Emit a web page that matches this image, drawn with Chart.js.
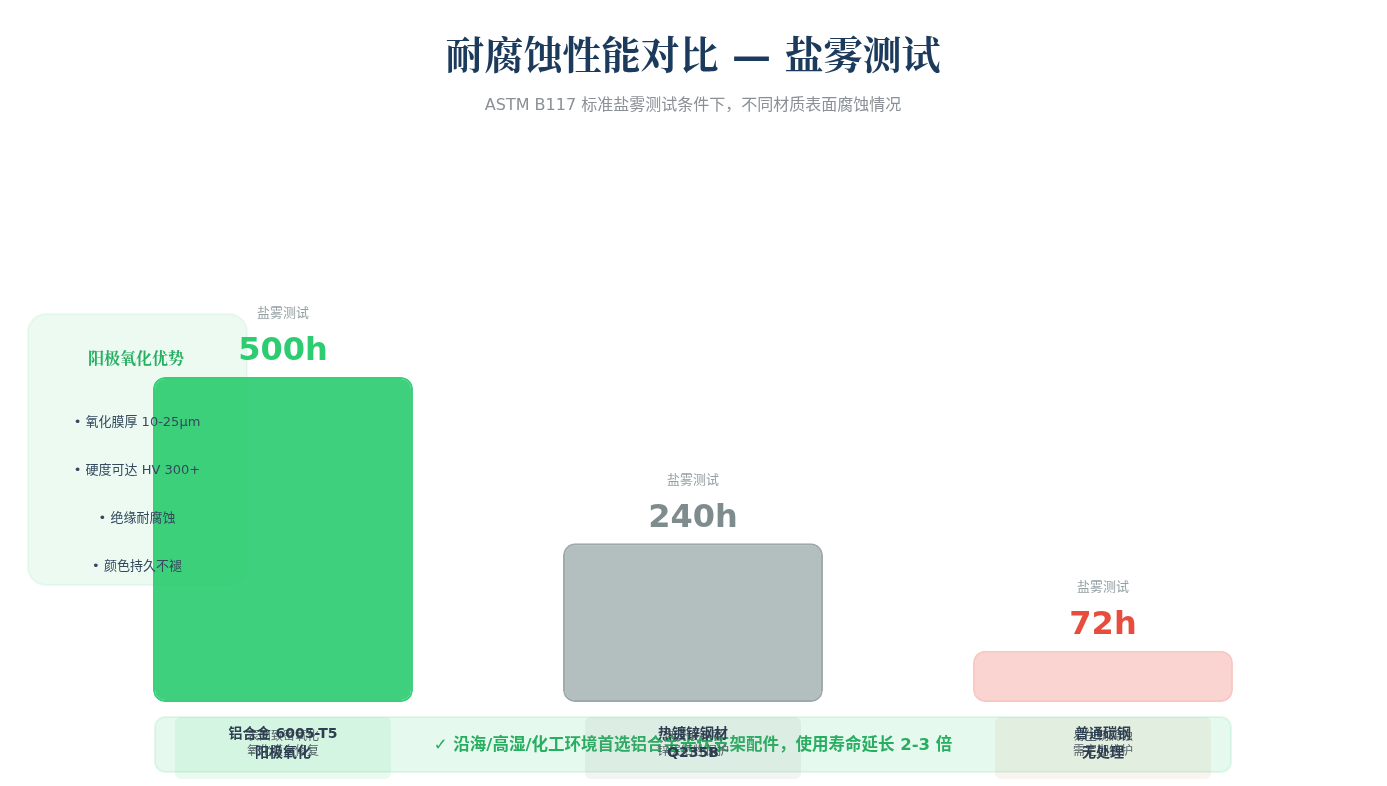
<!DOCTYPE html>
<html>
<head>
<meta charset="utf-8">
<script src="https://cdn.jsdelivr.net/npm/chart.js@4"></script>
<style>
  body { margin: 0; background: #fff; }
  #wrap { width: 1387px; height: 786px; position: relative; }
</style>
</head>
<body>
<div id="wrap"><canvas id="saltChart"></canvas></div>
<script>
// data
const materials = ['铝合金 6005-T5', '热镀锌钢材', '普通碳钢'];
const treatments = ['阳极氧化', 'Q235B', '无处理'];
const notes1 = ['表面致密氧化', '热浸镀锌层', '易生锈腐蚀'];
const notes2 = ['氧化膜自修复', '锌层牺牲保护', '需定期维护'];
const hours = [500, 240, 72];
const advantages = ['• 氧化膜厚 10-25μm', '• 硬度可达 HV 300+', '• 绝缘耐腐蚀', '• 颜色持久不褪'];

const barFill = ['rgba(46,204,113,0.92)', 'rgba(149,165,166,0.72)', 'rgba(231,76,60,0.24)'];
const barLine = ['rgba(46,204,113,0.95)', 'rgba(127,140,141,0.75)', 'rgba(231,76,60,0.3)'];
const valueColor = ['#2ecc71', '#7f8c8d', '#e74c3c'];
const cardFill = ['rgba(46,204,113,0.10)', 'rgba(127,140,141,0.10)', 'rgba(180,120,60,0.08)'];

const FONT = "'DejaVu Sans', 'Noto Sans CJK SC', sans-serif";
const SERIF = "'DejaVu Serif', 'Noto Serif CJK SC', 'Noto Sans CJK SC', serif";

function roundRect(ctx, x, y, w, h, r) {
  ctx.beginPath();
  ctx.moveTo(x + r, y);
  ctx.arcTo(x + w, y, x + w, y + h, r);
  ctx.arcTo(x + w, y + h, x, y + h, r);
  ctx.arcTo(x, y + h, x, y, r);
  ctx.arcTo(x, y, x + w, y, r);
  ctx.closePath();
}

// side box goes under the bars
const boxPlugin = {
  id: 'sideBox',
  beforeDatasetsDraw(chart) {
    const ctx = chart.ctx;
    ctx.save();
    roundRect(ctx, 28, 314, 219, 271, 18);
    ctx.fillStyle = 'rgba(46,204,113,0.09)';
    ctx.fill();
    ctx.strokeStyle = 'rgba(46,204,113,0.08)';
    ctx.lineWidth = 2;
    ctx.stroke();
    ctx.restore();
  }
};

const textPlugin = {
  id: 'texts',
  afterDatasetsDraw(chart) {
    const ctx = chart.ctx;
    const meta = chart.getDatasetMeta(0);
    ctx.save();
    ctx.textAlign = 'center';
    ctx.textBaseline = 'middle';

    // title
    ctx.fillStyle = '#1b3a5c';
    ctx.font = 'bold 39px ' + SERIF;
    ctx.fillText('耐腐蚀性能对比 — 盐雾测试', 693, 59);
    ctx.fillStyle = '#8a9095';
    ctx.font = '16px ' + FONT;
    ctx.fillText('ASTM B117 标准盐雾测试条件下，不同材质表面腐蚀情况', 693, 106);

    // value labels over bars
    meta.data.forEach((bar, i) => {
      ctx.fillStyle = '#95a0a3';
      ctx.font = '13px ' + FONT;
      ctx.fillText('盐雾测试', bar.x, bar.y - 63);
      ctx.fillStyle = valueColor[i];
      ctx.font = 'bold 32px ' + FONT;
      ctx.fillText(hours[i] + 'h', bar.x, bar.y - 25);
    });

    // side box text
    ctx.fillStyle = '#27ae60';
    ctx.font = 'bold 16px ' + SERIF;
    ctx.fillText('阳极氧化优势', 136, 360);
    ctx.fillStyle = '#34495e';
    ctx.font = '13px ' + FONT;
    advantages.forEach((t, i) => ctx.fillText(t, 137, 423 + i * 48));

    // bottom banner
    roundRect(ctx, 155, 717, 1076, 55, 10);
    ctx.fillStyle = 'rgba(46,204,113,0.12)';
    ctx.fill();
    ctx.strokeStyle = 'rgba(46,204,113,0.12)';
    ctx.lineWidth = 2;
    ctx.stroke();
    ctx.fillStyle = '#27ae60';
    ctx.font = 'bold 16.5px ' + FONT;
    ctx.fillText('✓ 沿海/高湿/化工环境首选铝合金光伏支架配件，使用寿命延长 2-3 倍', 693, 746);

    // category cards
    meta.data.forEach((bar, i) => {
      roundRect(ctx, bar.x - 108, 717, 216, 62, 6);
      ctx.fillStyle = cardFill[i];
      ctx.fill();
      ctx.fillStyle = '#555f66';
      ctx.font = '12px ' + FONT;
      ctx.fillText(notes1[i], bar.x, 737);
      ctx.fillText(notes2[i], bar.x, 752);
      ctx.fillStyle = '#2c3e50';
      ctx.font = 'bold 14px ' + FONT;
      ctx.fillText(materials[i], bar.x, 734);
      ctx.fillText(treatments[i], bar.x, 753);
    });
    ctx.restore();
  }
};

new Chart(document.getElementById('saltChart'), {
  type: 'bar',
  data: {
    labels: materials,
    datasets: [{
      data: hours,
      base: -8,
      backgroundColor: barFill,
      borderColor: barLine,
      borderWidth: 2,
      borderRadius: 12,
      borderSkipped: false,
      barPercentage: 0.634,
      categoryPercentage: 1
    }]
  },
  options: {
    responsive: true,
    maintainAspectRatio: false,
    animation: false,
    layout: { padding: { left: 78, right: 79, top: 150, bottom: 84 } },
    plugins: {
      legend: { display: false },
      tooltip: { enabled: false },
      title: { display: false }
    },
    scales: {
      x: { display: false },
      y: { display: false, min: -8, max: 855 }
    }
  },
  plugins: [boxPlugin, textPlugin]
});
</script>
</body>
</html>
